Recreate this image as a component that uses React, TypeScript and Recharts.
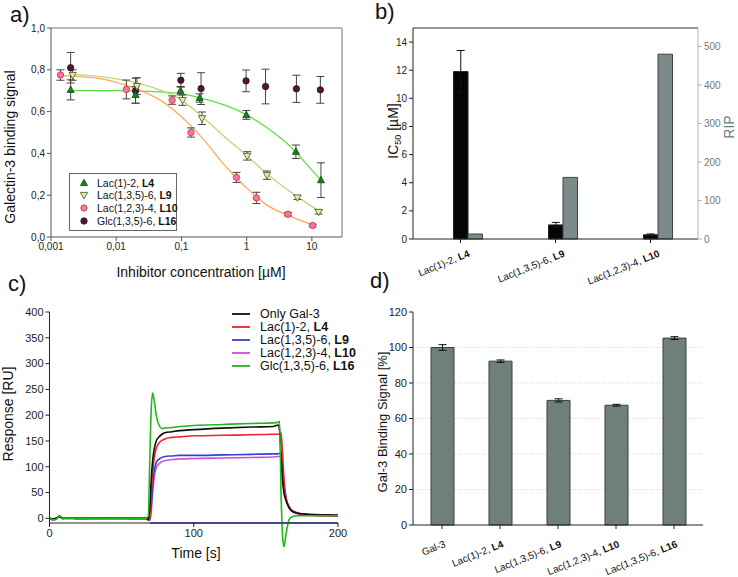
import React from "react";
import {
  ComposedChart,
  LineChart,
  BarChart,
  Scatter,
  Line,
  Bar,
  XAxis,
  YAxis,
  ErrorBar,
  ReferenceLine,
  CartesianGrid,
  Label,
} from "recharts";

const FONT = "'Liberation Sans', Arial, Helvetica, sans-serif";

// a) binding curves (x = inhibitor concentration in µM)
const A_NAMES = ["Lac(1)-2, L4", "Lac(1,3,5)-6, L9", "Lac(1,2,3)-4, L10", "Glc(1,3,5)-6, L16"];
const A_TICKS_X = [0.001, 0.01, 0.1, 1, 10];
const A_TICKS_Y = [0, 0.2, 0.4, 0.6, 0.8, 1];

const A_L4_X = [0.002, 0.0198, 0.097, 0.19, 0.99, 5.7, 13.8];
const A_L4_Y = [0.704, 0.68, 0.70, 0.665, 0.584, 0.408, 0.272];
const A_L4_ERR = [0.048, 0.04, 0.02, 0.02, 0.021, 0.032, 0.083];

const A_L9_X = [0.00215, 0.0208, 0.104, 0.207, 1.02, 2.05, 6.0, 12.7];
const A_L9_Y = [0.775, 0.722, 0.655, 0.568, 0.388, 0.296, 0.189, 0.12];
const A_L9_ERR = [0.025, 0.04, 0.025, 0.03, 0.02, 0.02, 0.01, 0.01];

const A_L10_X = [0.0014, 0.0143, 0.072, 0.14, 0.7, 1.41, 4.3, 10.3];
const A_L10_Y = [0.775, 0.706, 0.655, 0.50, 0.285, 0.187, 0.109, 0.055];
const A_L10_ERR = [0.025, 0.045, 0.02, 0.022, 0.024, 0.027, 0.008, 0.006];

const A_L16_X = [0.002, 0.0198, 0.098, 0.2, 0.98, 1.95, 5.8, 13.5];
const A_L16_Y = [0.81, 0.70, 0.75, 0.71, 0.747, 0.72, 0.709, 0.704];
const A_L16_ERR = [0.073, 0.06, 0.033, 0.076, 0.052, 0.083, 0.065, 0.064];

// fitted curves
const A_FIT4_X = [0.002, 0.01, 0.03, 0.1, 0.2, 0.5, 1, 2, 5, 10, 14];
const A_FIT4_Y = [0.70, 0.70, 0.697, 0.685, 0.665, 0.627, 0.584, 0.525, 0.425, 0.32, 0.27];
const A_FIT9_X = [0.002, 0.005, 0.01, 0.02, 0.05, 0.1, 0.2, 0.5, 1, 2, 5, 12.7];
const A_FIT9_Y = [0.778, 0.77, 0.757, 0.739, 0.70, 0.656, 0.58, 0.47, 0.39, 0.305, 0.21, 0.125];
const A_FIT10_X = [0.0014, 0.005, 0.01, 0.02, 0.05, 0.1, 0.2, 0.5, 1, 2, 5, 10.3];
const A_FIT10_Y = [0.772, 0.76, 0.74, 0.71, 0.65, 0.575, 0.48, 0.33, 0.235, 0.155, 0.095, 0.058];

// b) IC50 and RIP
const B_CATS = ["Lac(1)-2, L4", "Lac(1,3,5)-6, L9", "Lac(1,2,3)-4, L10"];
const B_IC50 = [11.9, 1.0, 0.3];
const B_IC50_ERR = [1.5, 0.18, 0.06];
const B_RIP = [13, 160, 480];
const B_TICKS_L = [0, 2, 4, 6, 8, 10, 12, 14];
const B_TICKS_R = [0, 100, 200, 300, 400, 500];

// c) SPR sensorgrams
const C_NAMES = ["Only Gal-3", "Lac(1)-2, L4", "Lac(1,3,5)-6, L9", "Lac(1,2,3)-4, L10", "Glc(1,3,5)-6, L16"];
const C_TIME = [0, 3, 5, 7, 9, 12, 20, 40, 60, 67, 68.5, 69.5, 70.5, 71.5, 72.5, 74, 76, 78, 80, 85, 90, 100, 120, 140, 155, 158.5, 159.5, 160.5, 161.5, 162.5, 164, 166, 168, 172, 180, 190, 200];
const C_GAL3 = [0, -1, 1, 3, 0, 1, 0, 0, 0, 0, -2, 20, 75, 112, 133, 150, 158, 163, 166, 168, 170, 172, 175, 177, 178, 181, 170, 120, 75, 50, 34, 21, 14, 10, 8, 7, 6.5];
const C_L4 = [0, -2, 0, 4, 1, 0, 0, 1, 0, 0, -3, 0, 45, 88, 115, 136, 146, 151, 154, 157, 158, 160, 161, 162, 163, 163, 164, 166, 130, 80, 40, 22, 14, 9, 6, 5, 4.5];
const C_L9 = [-1, -3, 0, 5, 0, 0, 0, 0, 0, 0, -3, -2, 25, 62, 90, 108, 115, 118, 120, 121, 122, 122, 123, 124, 125, 125, 126, 128, 95, 60, 36, 22, 15, 10, 7, 6, 5];
const C_L10 = [0, -2, 1, 3, 0, 1, 0, 0, 0, 0, -4, -4, 12, 48, 78, 98, 106, 110, 112, 114, 115, 116, 117, 118, 119, 120, 120, 122, 100, 65, 38, 24, 16, 11, 7, 5, 4];
const C_L16 = [0, -3, -1, 5, 0, 1, 0, 0, 0, 0, 5, 110, 210, 243, 230, 200, 180, 174, 175, 176, 178, 180, 182, 184, 185, 186, 188, 50, -30, -55, -30, -3, 3, 5, 5, 5, 5];
const C_FLOOR_T = [69.5, 200];
const C_FLOOR_V = [-9, -9];
const C_COLORS = ["#111111", "#ee2230", "#3242d8", "#d050d0", "#22b81a"];

// d) binding signal
const D_CATS = ["Gal-3", "Lac(1)-2, L4", "Lac(1,3,5)-6, L9", "Lac(1,2,3)-4, L10", "Lac(1,3,5)-6, L16"];
const D_SIGNAL = [100, 92.3, 70.2, 67.5, 105.3];
const D_ERR = [1.6, 0.7, 0.9, 0.5, 0.8];

function splitBold(s: string): [string, string] {
  const i = s.lastIndexOf(", ");
  return i < 0 ? [s, ""] : [s.slice(0, i + 2), s.slice(i + 2)];
}

const pts = (xs: number[], ys: number[], errs?: number[]) =>
  xs.map((x, i) => ({ x, y: ys[i], err: errs ? errs[i] : 0 }));

type ShapeProps = { cx?: number; cy?: number };

const TriUp = ({ cx = 0, cy = 0 }: ShapeProps) => (
  <path
    d={`M${cx},${cy - 3.8}L${cx + 3.5},${cy + 2.6}L${cx - 3.5},${cy + 2.6}Z`}
    fill="#1f7d1f"
    stroke="#0c4a0c"
    strokeWidth={0.8}
  />
);
const TriDown = ({ cx = 0, cy = 0 }: ShapeProps) => (
  <path
    d={`M${cx},${cy + 3.8}L${cx + 3.6},${cy - 2.6}L${cx - 3.6},${cy - 2.6}Z`}
    fill="#e2eeb0"
    stroke="#4f6a2a"
    strokeWidth={0.9}
  />
);
const PinkDot = ({ cx = 0, cy = 0 }: ShapeProps) => (
  <circle cx={cx} cy={cy} r={3.2} fill="#ff70aa" stroke="#c04a3a" strokeWidth={0.9} />
);
const DarkDot = ({ cx = 0, cy = 0 }: ShapeProps) => (
  <circle cx={cx} cy={cy} r={3.2} fill="#5a0f3c" stroke="#1a1a1a" strokeWidth={0.8} />
);
const A_SHAPES = [TriUp, TriDown, PinkDot, DarkDot];

const SlantTick = (props: any) => {
  const { x, y, payload, dx = 5, dy = 14 } = props;
  const [plain, bold] = splitBold(String(payload.value));
  return (
    <g transform={`translate(${x},${y})`}>
      <text x={dx} y={dy} textAnchor="end" transform="rotate(-22)" fontSize={10} fill="#111">
        {plain}
        {bold && <tspan fontWeight="bold">{bold}</tspan>}
      </text>
    </g>
  );
};

const axisTick = { fontSize: 10, fill: "#222" };

function PanelA() {
  const comma = (v: number) => String(v).replace(".", ",");
  return (
    <div style={{ position: "absolute", left: 0, top: 0 }}>
      <ComposedChart width={360} height={285} margin={{ top: 28, right: 18, bottom: 8, left: 6 }}>
        <XAxis
          type="number"
          dataKey="x"
          scale="log"
          domain={[0.001, 29]}
          allowDataOverflow
          ticks={A_TICKS_X}
          tickFormatter={comma}
          tick={axisTick}
          tickSize={4}
          height={40}
          stroke="#555"
        >
          <Label
            content={() => (
              <text x={201} y={277} textAnchor="middle" fontSize={14} fill="#111">
                Inhibitor concentration [µM]
              </text>
            )}
          />
        </XAxis>
        <YAxis
          type="number"
          dataKey="y"
          domain={[0, 1]}
          ticks={A_TICKS_Y}
          tickFormatter={(v: number) => v.toFixed(1).replace(".", ",")}
          tick={axisTick}
          tickSize={4}
          width={45}
          stroke="#555"
        >
          <Label
            content={() => (
              <text transform="translate(14.5,147) rotate(-90)" textAnchor="middle" fontSize={14} fill="#111">
                Galectin-3 binding signal
              </text>
            )}
          />
        </YAxis>
        <ReferenceLine y={1} stroke="#777" />
        <ReferenceLine x={29} stroke="#777" />
        <Line data={pts(A_FIT4_X, A_FIT4_Y)} dataKey="y" type="monotone" stroke="#5ee040" strokeWidth={1.3} dot={false} isAnimationActive={false} />
        <Line data={pts(A_FIT9_X, A_FIT9_Y)} dataKey="y" type="monotone" stroke="#c4d478" strokeWidth={1.3} dot={false} isAnimationActive={false} />
        <Line data={pts(A_FIT10_X, A_FIT10_Y)} dataKey="y" type="monotone" stroke="#ffa860" strokeWidth={1.3} dot={false} isAnimationActive={false} />
        <Scatter data={pts(A_L16_X, A_L16_Y, A_L16_ERR)} shape={DarkDot} isAnimationActive={false}>
          <ErrorBar dataKey="err" direction="y" width={4} stroke="#444" strokeWidth={1} />
        </Scatter>
        <Scatter data={pts(A_L4_X, A_L4_Y, A_L4_ERR)} shape={TriUp} isAnimationActive={false}>
          <ErrorBar dataKey="err" direction="y" width={4} stroke="#444" strokeWidth={1} />
        </Scatter>
        <Scatter data={pts(A_L9_X, A_L9_Y, A_L9_ERR)} shape={TriDown} isAnimationActive={false}>
          <ErrorBar dataKey="err" direction="y" width={4} stroke="#444" strokeWidth={1} />
        </Scatter>
        <Scatter data={pts(A_L10_X, A_L10_Y, A_L10_ERR)} shape={PinkDot} isAnimationActive={false}>
          <ErrorBar dataKey="err" direction="y" width={4} stroke="#444" strokeWidth={1} />
        </Scatter>
      </ComposedChart>
      <div
        style={{
          position: "absolute",
          left: 69,
          top: 173,
          width: 106,
          height: 56,
          border: "1px solid #666",
          background: "#fff",
          fontSize: 10.5,
        }}
      >
        {A_NAMES.map((name, i) => {
          const Shape = A_SHAPES[i];
          const [plain, bold] = splitBold(name);
          return (
            <div key={name} style={{ position: "absolute", left: 8, top: 2 + i * 12.8, height: 13, display: "flex", alignItems: "center", whiteSpace: "nowrap" }}>
              <svg width={12} height={12} style={{ marginRight: 7 }}>
                <Shape cx={6} cy={6} />
              </svg>
              <span>
                {plain}
                <b>{bold}</b>
              </span>
            </div>
          );
        })}
      </div>
    </div>
  );
}

function PanelB() {
  const rows = B_CATS.map((name, i) => ({
    name,
    pad: 0,
    ic50: B_IC50[i],
    icErr: B_IC50_ERR[i],
    rip: B_RIP[i],
  }));
  return (
    <div style={{ position: "absolute", left: 370, top: 0 }}>
      <BarChart width={368} height={290} data={rows} margin={{ top: 28, right: 8, bottom: 6, left: 0 }} barSize={14.5} barGap={0}>
        <XAxis dataKey="name" tick={<SlantTick dx={5} dy={14} />} interval={0} height={45} stroke="#222" tickSize={4} />
        <YAxis yAxisId="left" domain={[0, 15]} ticks={B_TICKS_L} tick={axisTick} width={43} stroke="#222" tickSize={4}>
          <Label
            content={() => (
              <text transform="translate(27.5,131) rotate(-90)" textAnchor="middle" fontSize={14} fill="#111">
                IC
                <tspan fontSize={9} dy={3}>
                  50
                </tspan>
                <tspan dy={-3}> [µM]</tspan>
              </text>
            )}
          />
        </YAxis>
        <YAxis
          yAxisId="right"
          orientation="right"
          domain={[0, 548]}
          ticks={B_TICKS_R}
          tick={{ fontSize: 10, fill: "#6d7d7d" }}
          width={32}
          stroke="#a7b7b7"
          tickSize={4}
        >
          <Label
            content={() => (
              <text transform="translate(364,127) rotate(-90)" textAnchor="middle" fontSize={14} fill="#6d7d7d">
                RIP
              </text>
            )}
          />
        </YAxis>
        <ReferenceLine yAxisId="left" y={15} stroke="#333" />
        <Bar yAxisId="left" dataKey="pad" fill="none" isAnimationActive={false} />
        <Bar yAxisId="left" dataKey="ic50" fill="#050505" stroke="#222" isAnimationActive={false}>
          <ErrorBar dataKey="icErr" width={4} stroke="#111" strokeWidth={1} />
        </Bar>
        <Bar yAxisId="right" dataKey="rip" fill="#7c8b89" stroke="#3b4443" isAnimationActive={false} />
      </BarChart>
    </div>
  );
}

function PanelC() {
  const rows = C_TIME.map((t, i) => ({
    t,
    gal3: C_GAL3[i],
    l4: C_L4[i],
    l9: C_L9[i],
    l10: C_L10[i],
    l16: C_L16[i],
  }));
  const floor = C_FLOOR_T.map((t, i) => ({ t, floor: C_FLOOR_V[i] }));
  const keys = ["gal3", "l4", "l9", "l10", "l16"];
  const order = [3, 2, 1, 0, 4];
  return (
    <div className="no-clip" style={{ position: "absolute", left: 0, top: 290 }}>
      <LineChart width={370} height={287} data={rows} margin={{ top: 22, right: 32, bottom: 14, left: 4.5 }}>
        <XAxis type="number" dataKey="t" domain={[0, 200]} ticks={[0, 100, 200]} tick={{ fontSize: 11, fill: "#222" }} height={40} stroke="#222" tickSize={4}>
          <Label
            content={() => (
              <text x={196} y={268} textAnchor="middle" fontSize={14} fill="#111">
                Time [s]
              </text>
            )}
          />
        </XAxis>
        <YAxis
          domain={[-9, 400]}
          allowDataOverflow
          ticks={[0, 50, 100, 150, 200, 250, 300, 350, 400]}
          tick={{ fontSize: 11, fill: "#222" }}
          width={45}
          stroke="#222"
          tickSize={4}
        >
          <Label
            content={() => (
              <text transform="translate(12.5,124) rotate(-90)" textAnchor="middle" fontSize={14} fill="#111">
                Response [RU]
              </text>
            )}
          />
        </YAxis>
        <Line data={floor} dataKey="floor" stroke="#3242d8" strokeWidth={1.3} dot={false} isAnimationActive={false} />
        {order.map((i) => (
          <Line
            key={keys[i]}
            dataKey={keys[i]}
            type="monotone"
            stroke={C_COLORS[i]}
            strokeWidth={1.6}
            dot={false}
            isAnimationActive={false}
          />
        ))}
      </LineChart>
      <div style={{ position: "absolute", left: 231, top: 17, fontSize: 12.5 }}>
        {C_NAMES.map((name, i) => {
          const [plain, bold] = splitBold(name);
          return (
            <div key={name} style={{ display: "flex", alignItems: "center", height: 13.2, whiteSpace: "nowrap" }}>
              <svg width={20} height={6} style={{ marginRight: 9 }}>
                <line x1={1} y1={3} x2={19} y2={3} stroke={C_COLORS[i]} strokeWidth={1.8} />
              </svg>
              <span>
                {plain}
                <b>{bold}</b>
              </span>
            </div>
          );
        })}
      </div>
    </div>
  );
}

function PanelD() {
  const rows = D_CATS.map((name, i) => ({ name, signal: D_SIGNAL[i], err: D_ERR[i] }));
  return (
    <div style={{ position: "absolute", left: 370, top: 290 }}>
      <BarChart width={368} height={287} data={rows} margin={{ top: 22, right: 35, bottom: 6, left: 0 }} barSize={23}>
        <CartesianGrid vertical={false} horizontalValues={[20, 40, 60, 80, 100]} stroke="#c9cfd3" strokeDasharray="1 2" />
        <XAxis dataKey="name" tick={<SlantTick dx={-2} dy={16} />} interval={0} height={46} stroke="#222" tickSize={4} />
        <YAxis domain={[0, 120]} ticks={[0, 20, 40, 60, 80, 100, 120]} tick={{ fontSize: 11, fill: "#222" }} width={43} stroke="#222" tickSize={4}>
          <Label
            content={() => (
              <text transform="translate(17,132) rotate(-90)" textAnchor="middle" fontSize={13} fill="#111">
                Gal-3 Binding Signal [%]
              </text>
            )}
          />
        </YAxis>
        <Bar dataKey="signal" fill="#6f807c" stroke="#36413f" isAnimationActive={false}>
          <ErrorBar dataKey="err" width={4} stroke="#111" strokeWidth={1} />
        </Bar>
      </BarChart>
    </div>
  );
}

const panelLabel = (text: string, left: number, top: number) => (
  <div style={{ position: "absolute", left, top, fontSize: 22, lineHeight: "22px" }}>{text}</div>
);

export default function App() {
  return (
    <div style={{ position: "relative", width: 738, height: 577, fontFamily: FONT, color: "#111", background: "#fff", overflow: "hidden" }}>
      <style>{`body{margin:0}.recharts-surface{overflow:visible}.no-clip [clip-path]{clip-path:none !important}`}</style>
      <PanelA />
      <PanelB />
      <PanelC />
      <PanelD />
      {panelLabel("a)", 10, 4)}
      {panelLabel("b)", 375, 1)}
      {panelLabel("c)", 8, 273)}
      {panelLabel("d)", 370, 270)}
    </div>
  );
}
